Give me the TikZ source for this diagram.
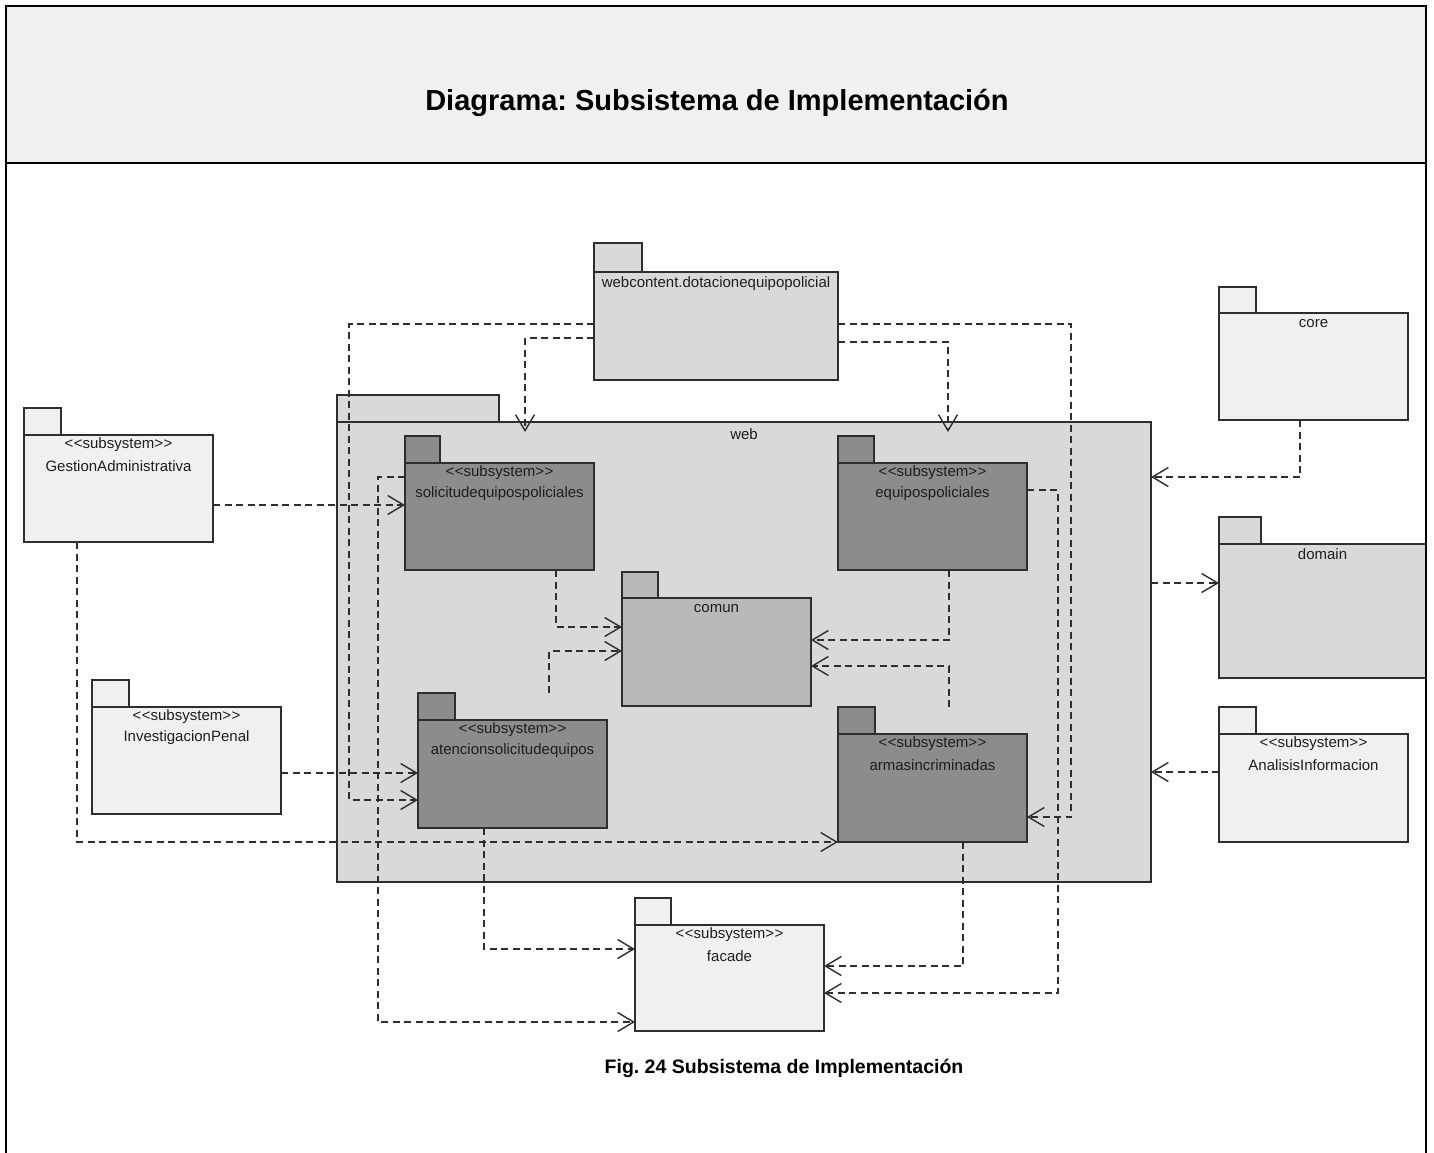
\documentclass[tikz,border=0pt]{standalone}
\usepackage{fontspec}
\setmainfont{Liberation Sans}
\usetikzlibrary{arrows.meta,calc}

\definecolor{pkglight}{HTML}{F0F0F0}
\definecolor{pkgmid}{HTML}{D9D9D9}
\definecolor{pkgcom}{HTML}{B9B9B9}
\definecolor{pkgdark}{HTML}{8C8C8C}
\definecolor{edgec}{HTML}{2E2E2E}
\definecolor{textc}{HTML}{1E1E1E}
\definecolor{bandc}{HTML}{F0F0F0}

\tikzset{
  pkgshape/.style={draw=edgec, line width=1.3pt, anchor=north west, inner sep=0pt, outer sep=0pt},
  lbl/.style={text=textc, font=\fontsize{15}{17}\selectfont, inner sep=0pt, anchor=center},
  dep/.style={draw=edgec, line width=1.2pt, dash pattern=on 7pt off 4.5pt,
    -{Straight Barb[length=16pt,width=19pt,line width=1.4pt]}},
  framel/.style={draw=black, line width=2.5pt},
}

% UML package: name, fill, left, tab top, tab right, body top, right, bottom
\newcommand\umlpkg[8]{%
  \node[pkgshape, fill=#2, minimum width={#5-#3}, minimum height={#6-#4}] (#1-tab) at (#3,#4) {};
  \node[pkgshape, fill=#2, minimum width={#7-#3}, minimum height={#8-#6}] (#1) at (#3,#6) {};
}
\newcommand\stereo{\textless\kern0.5pt\textless subsystem\textgreater\kern0.5pt\textgreater}

\begin{document}
\frenchspacing
\begin{tikzpicture}[x=1pt,y=-1pt]
\useasboundingbox (0,0) rectangle (1434,1153);
\fill[white] (0,0) rectangle (1434,1153);

% title band
\fill[bandc] (6,6) rectangle (1426,163);
\node[font=\bfseries\fontsize{29}{35}\selectfont, text=black] (title) at (717,103) {Diagrama: Subsistema de Implementación};

% outer packages
\umlpkg{webc}{pkgmid}{594}{243}{642}{272}{838}{380}
\umlpkg{web}{pkgmid}{337}{395}{499}{422}{1151}{882}
\umlpkg{core}{pkglight}{1219}{287}{1256}{313}{1408}{420}
\umlpkg{dom}{pkgmid}{1219}{517}{1261}{544}{1426}{678}
\umlpkg{ai}{pkglight}{1219}{707}{1256}{734}{1408}{842}
\umlpkg{ga}{pkglight}{24}{408}{61}{435}{213}{542}
\umlpkg{ip}{pkglight}{92}{680}{129}{707}{281}{814}
\umlpkg{fac}{pkglight}{635}{898}{671}{925}{824}{1031}

% packages nested in web
\umlpkg{sol}{pkgdark}{405}{436}{440}{463}{594}{570}
\umlpkg{eqp}{pkgdark}{838}{436}{874}{463}{1027}{570}
\umlpkg{com}{pkgcom}{622}{572}{658}{598}{811}{706}
\umlpkg{atn}{pkgdark}{418}{693}{455}{720}{607}{828}
\umlpkg{arm}{pkgdark}{838}{707}{875}{734}{1027}{842}

% package labels
\node[lbl] (webc-l) at ($(webc.north)+(0,12)$) {webcontent.dotacionequipopolicial};
\node[lbl] (web-l) at ($(web.north)+(0,12)$) {web};
\node[lbl] (core-l) at ($(core.north)+(0,11)$) {core};
\node[lbl] (dom-l) at ($(dom.north)+(0,10)$) {domain};
\node[lbl] (com-l) at ($(com.north)+(0,11)$) {comun};
\foreach \p/\t in {ai/AnalisisInformacion, ga/GestionAdministrativa, ip/InvestigacionPenal,
  fac/facade, sol/solicitudequipospoliciales, eqp/equipospoliciales,
  atn/atencionsolicitudequipos, arm/armasincriminadas}{
  \node[lbl] (\p-st) at ($(\p.north)+(0,10)$) {\stereo};
  \node[lbl] (\p-l) at ($(\p.north)+(0,31)$) {\t};
}

% dependencies
\draw[dep] (webc.west |- 0,338) -| ($(web.north -| 525,0)+(0,10)$);
\draw[dep] (webc.east |- 0,342) -| ($(web.north -| 948,0)+(0,10)$);
\draw[dep] (webc.west |- 0,324) -| (349,800) -- (atn.west |- 0,800);
\draw[dep] (webc.east |- 0,324) -| (1071,817) -- (arm.east |- 0,817);
\draw[dep] (ga.east |- 0,505) -- (sol.west |- 0,505);
\draw[dep] (ga.south -| 77,0) |- (arm.south west);
\draw[dep] (ip.east |- 0,773) -- (atn.west |- 0,773);
\draw[dep] (sol.south -| 556,0) |- (com.west |- 0,627);
\draw[dep] (atn-tab.north -| 549,0) |- (com.west |- 0,651);
\draw[dep] (eqp.south -| 949,0) |- (com.east |- 0,640);
\draw[dep] (arm-tab.north -| 949,0) |- (com.east |- 0,666);
\draw[dep] (atn.south -| 484,0) |- (fac.west |- 0,949);
\draw[dep] (sol.west |- 0,477) -| (378,1022) -- (fac.west |- 0,1022);
\draw[dep] (arm.south -| 963,0) |- (fac.east |- 0,966);
\draw[dep] (eqp.east |- 0,490) -| (1058,993) -- (fac.east |- 0,993);
\draw[dep] (core.south -| 1300,0) |- (web.east |- 0,477);
\draw[dep] (web.east |- 0,583) -- (dom.west |- 0,583);
\draw[dep] (ai.west |- 0,772) -- (web.east |- 0,772);

% caption
\node[font=\bfseries\fontsize{19.5}{24}\selectfont, text=black] (caption) at (784,1068) {Fig. 24 Subsistema de Implementación};

% frame
\draw[framel] (6,1153) -- (6,6) -- (1426,6) -- (1426,1153);
\draw[framel] (6,163) -- (1426,163);
\end{tikzpicture}
\end{document}
